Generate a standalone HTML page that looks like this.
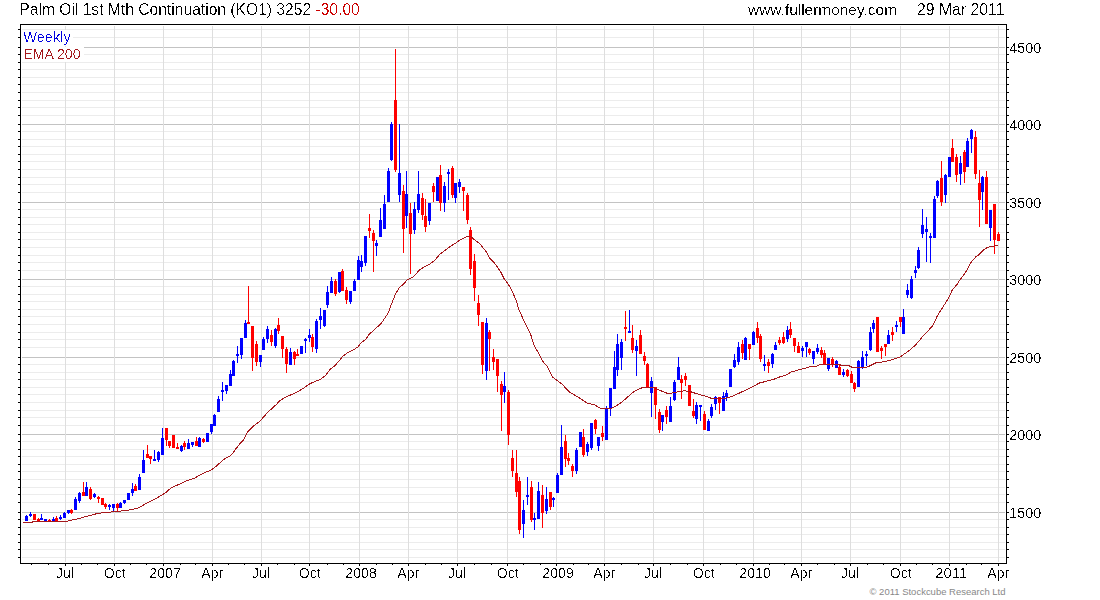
<!DOCTYPE html><html><head><meta charset="utf-8"><style>html,body{margin:0;padding:0;background:#fff;width:1100px;height:600px;overflow:hidden}svg{display:block}text{font-family:"Liberation Sans",sans-serif}</style></head><body>
<svg width="1100" height="600" viewBox="0 0 1100 600" shape-rendering="crispEdges">
<defs><filter id="al" x="0" y="0" width="1" height="1" color-interpolation-filters="sRGB"><feComponentTransfer><feFuncA type="discrete" tableValues="0 0 0 0 0 0 1 1 1 1"/></feComponentTransfer></filter></defs>
<rect x="0" y="0" width="1100" height="600" fill="#fff"/>
<rect x="22" y="29" width="983" height="1" fill="#ececec"/>
<rect x="22" y="37" width="983" height="1" fill="#ececec"/>
<rect x="22" y="54" width="983" height="1" fill="#ececec"/>
<rect x="22" y="62" width="983" height="1" fill="#ececec"/>
<rect x="22" y="69" width="983" height="1" fill="#ececec"/>
<rect x="22" y="77" width="983" height="1" fill="#ececec"/>
<rect x="22" y="84" width="983" height="1" fill="#ececec"/>
<rect x="22" y="92" width="983" height="1" fill="#ececec"/>
<rect x="22" y="100" width="983" height="1" fill="#ececec"/>
<rect x="22" y="107" width="983" height="1" fill="#ececec"/>
<rect x="22" y="115" width="983" height="1" fill="#ececec"/>
<rect x="22" y="131" width="983" height="1" fill="#ececec"/>
<rect x="22" y="139" width="983" height="1" fill="#ececec"/>
<rect x="22" y="146" width="983" height="1" fill="#ececec"/>
<rect x="22" y="154" width="983" height="1" fill="#ececec"/>
<rect x="22" y="161" width="983" height="1" fill="#ececec"/>
<rect x="22" y="169" width="983" height="1" fill="#ececec"/>
<rect x="22" y="177" width="983" height="1" fill="#ececec"/>
<rect x="22" y="184" width="983" height="1" fill="#ececec"/>
<rect x="22" y="192" width="983" height="1" fill="#ececec"/>
<rect x="22" y="209" width="983" height="1" fill="#ececec"/>
<rect x="22" y="217" width="983" height="1" fill="#ececec"/>
<rect x="22" y="224" width="983" height="1" fill="#ececec"/>
<rect x="22" y="232" width="983" height="1" fill="#ececec"/>
<rect x="22" y="239" width="983" height="1" fill="#ececec"/>
<rect x="22" y="247" width="983" height="1" fill="#ececec"/>
<rect x="22" y="255" width="983" height="1" fill="#ececec"/>
<rect x="22" y="262" width="983" height="1" fill="#ececec"/>
<rect x="22" y="270" width="983" height="1" fill="#ececec"/>
<rect x="22" y="286" width="983" height="1" fill="#ececec"/>
<rect x="22" y="294" width="983" height="1" fill="#ececec"/>
<rect x="22" y="301" width="983" height="1" fill="#ececec"/>
<rect x="22" y="309" width="983" height="1" fill="#ececec"/>
<rect x="22" y="316" width="983" height="1" fill="#ececec"/>
<rect x="22" y="324" width="983" height="1" fill="#ececec"/>
<rect x="22" y="332" width="983" height="1" fill="#ececec"/>
<rect x="22" y="339" width="983" height="1" fill="#ececec"/>
<rect x="22" y="347" width="983" height="1" fill="#ececec"/>
<rect x="22" y="364" width="983" height="1" fill="#ececec"/>
<rect x="22" y="372" width="983" height="1" fill="#ececec"/>
<rect x="22" y="379" width="983" height="1" fill="#ececec"/>
<rect x="22" y="387" width="983" height="1" fill="#ececec"/>
<rect x="22" y="394" width="983" height="1" fill="#ececec"/>
<rect x="22" y="402" width="983" height="1" fill="#ececec"/>
<rect x="22" y="410" width="983" height="1" fill="#ececec"/>
<rect x="22" y="417" width="983" height="1" fill="#ececec"/>
<rect x="22" y="425" width="983" height="1" fill="#ececec"/>
<rect x="22" y="441" width="983" height="1" fill="#ececec"/>
<rect x="22" y="449" width="983" height="1" fill="#ececec"/>
<rect x="22" y="456" width="983" height="1" fill="#ececec"/>
<rect x="22" y="464" width="983" height="1" fill="#ececec"/>
<rect x="22" y="471" width="983" height="1" fill="#ececec"/>
<rect x="22" y="479" width="983" height="1" fill="#ececec"/>
<rect x="22" y="487" width="983" height="1" fill="#ececec"/>
<rect x="22" y="494" width="983" height="1" fill="#ececec"/>
<rect x="22" y="502" width="983" height="1" fill="#ececec"/>
<rect x="22" y="519" width="983" height="1" fill="#ececec"/>
<rect x="22" y="527" width="983" height="1" fill="#ececec"/>
<rect x="22" y="534" width="983" height="1" fill="#ececec"/>
<rect x="22" y="542" width="983" height="1" fill="#ececec"/>
<rect x="22" y="549" width="983" height="1" fill="#ececec"/>
<rect x="22" y="557" width="983" height="1" fill="#ececec"/>
<rect x="22" y="47" width="983" height="1" fill="#c3c3c3"/>
<rect x="22" y="124" width="983" height="1" fill="#c3c3c3"/>
<rect x="22" y="202" width="983" height="1" fill="#c3c3c3"/>
<rect x="22" y="279" width="983" height="1" fill="#c3c3c3"/>
<rect x="22" y="357" width="983" height="1" fill="#c3c3c3"/>
<rect x="22" y="434" width="983" height="1" fill="#c3c3c3"/>
<rect x="22" y="512" width="983" height="1" fill="#c3c3c3"/>
<rect x="65" y="26" width="1" height="536" fill="#dedede"/>
<rect x="114" y="26" width="1" height="536" fill="#dedede"/>
<rect x="163" y="26" width="1" height="536" fill="#dedede"/>
<rect x="212" y="26" width="1" height="536" fill="#dedede"/>
<rect x="261" y="26" width="1" height="536" fill="#dedede"/>
<rect x="309" y="26" width="1" height="536" fill="#dedede"/>
<rect x="359" y="26" width="1" height="536" fill="#dedede"/>
<rect x="408" y="26" width="1" height="536" fill="#dedede"/>
<rect x="457" y="26" width="1" height="536" fill="#dedede"/>
<rect x="507" y="26" width="1" height="536" fill="#dedede"/>
<rect x="556" y="26" width="1" height="536" fill="#dedede"/>
<rect x="604" y="26" width="1" height="536" fill="#dedede"/>
<rect x="653" y="26" width="1" height="536" fill="#dedede"/>
<rect x="703" y="26" width="1" height="536" fill="#dedede"/>
<rect x="753" y="26" width="1" height="536" fill="#dedede"/>
<rect x="801" y="26" width="1" height="536" fill="#dedede"/>
<rect x="850" y="26" width="1" height="536" fill="#dedede"/>
<rect x="900" y="26" width="1" height="536" fill="#dedede"/>
<rect x="949" y="26" width="1" height="536" fill="#dedede"/>
<rect x="998" y="26" width="1" height="536" fill="#dedede"/>
<rect x="22" y="30" width="51" height="16" fill="#fff"/>
<rect x="22" y="47" width="62" height="15" fill="#fff"/>
<rect x="26" y="515" width="1" height="6" fill="#0000ff"/>
<rect x="25" y="516" width="3" height="5" fill="#0000ff"/>
<rect x="30" y="512" width="1" height="5" fill="#0000ff"/>
<rect x="29" y="514" width="3" height="2" fill="#0000ff"/>
<rect x="34" y="514" width="1" height="6" fill="#ff0000"/>
<rect x="33" y="514" width="3" height="6" fill="#ff0000"/>
<rect x="38" y="518" width="1" height="3" fill="#ff0000"/>
<rect x="37" y="519" width="3" height="2" fill="#ff0000"/>
<rect x="41" y="514" width="1" height="6" fill="#0000ff"/>
<rect x="40" y="518" width="3" height="2" fill="#0000ff"/>
<rect x="45" y="519" width="1" height="2" fill="#0000ff"/>
<rect x="44" y="519" width="3" height="2" fill="#0000ff"/>
<rect x="49" y="519" width="1" height="2" fill="#ff0000"/>
<rect x="48" y="520" width="3" height="1" fill="#ff0000"/>
<rect x="53" y="517" width="1" height="4" fill="#0000ff"/>
<rect x="52" y="519" width="3" height="2" fill="#0000ff"/>
<rect x="56" y="516" width="1" height="5" fill="#ff0000"/>
<rect x="55" y="518" width="3" height="3" fill="#ff0000"/>
<rect x="60" y="515" width="1" height="5" fill="#0000ff"/>
<rect x="59" y="517" width="3" height="2" fill="#0000ff"/>
<rect x="64" y="512" width="1" height="6" fill="#0000ff"/>
<rect x="63" y="513" width="3" height="5" fill="#0000ff"/>
<rect x="68" y="510" width="1" height="4" fill="#0000ff"/>
<rect x="67" y="510" width="3" height="3" fill="#0000ff"/>
<rect x="71" y="509" width="1" height="5" fill="#ff0000"/>
<rect x="70" y="510" width="3" height="3" fill="#ff0000"/>
<rect x="75" y="497" width="1" height="13" fill="#0000ff"/>
<rect x="74" y="499" width="3" height="11" fill="#0000ff"/>
<rect x="79" y="492" width="1" height="11" fill="#0000ff"/>
<rect x="78" y="493" width="3" height="8" fill="#0000ff"/>
<rect x="83" y="482" width="1" height="14" fill="#ff0000"/>
<rect x="82" y="492" width="3" height="4" fill="#ff0000"/>
<rect x="86" y="482" width="1" height="14" fill="#0000ff"/>
<rect x="85" y="487" width="3" height="9" fill="#0000ff"/>
<rect x="90" y="487" width="1" height="13" fill="#ff0000"/>
<rect x="89" y="489" width="3" height="10" fill="#ff0000"/>
<rect x="94" y="493" width="1" height="5" fill="#0000ff"/>
<rect x="93" y="494" width="3" height="3" fill="#0000ff"/>
<rect x="98" y="496" width="1" height="7" fill="#ff0000"/>
<rect x="97" y="497" width="3" height="2" fill="#ff0000"/>
<rect x="102" y="498" width="1" height="7" fill="#ff0000"/>
<rect x="101" y="498" width="3" height="7" fill="#ff0000"/>
<rect x="105" y="503" width="1" height="6" fill="#ff0000"/>
<rect x="104" y="504" width="3" height="3" fill="#ff0000"/>
<rect x="109" y="504" width="1" height="6" fill="#0000ff"/>
<rect x="108" y="505" width="3" height="2" fill="#0000ff"/>
<rect x="113" y="504" width="1" height="7" fill="#0000ff"/>
<rect x="112" y="504" width="3" height="4" fill="#0000ff"/>
<rect x="117" y="503" width="1" height="8" fill="#ff0000"/>
<rect x="116" y="504" width="3" height="4" fill="#ff0000"/>
<rect x="120" y="502" width="1" height="6" fill="#0000ff"/>
<rect x="119" y="503" width="3" height="5" fill="#0000ff"/>
<rect x="124" y="500" width="1" height="4" fill="#0000ff"/>
<rect x="123" y="500" width="3" height="3" fill="#0000ff"/>
<rect x="128" y="493" width="1" height="7" fill="#0000ff"/>
<rect x="127" y="493" width="3" height="7" fill="#0000ff"/>
<rect x="132" y="483" width="1" height="13" fill="#0000ff"/>
<rect x="131" y="489" width="3" height="4" fill="#0000ff"/>
<rect x="135" y="484" width="1" height="7" fill="#ff0000"/>
<rect x="134" y="486" width="3" height="5" fill="#ff0000"/>
<rect x="139" y="474" width="1" height="16" fill="#0000ff"/>
<rect x="138" y="477" width="3" height="13" fill="#0000ff"/>
<rect x="143" y="450" width="1" height="23" fill="#0000ff"/>
<rect x="142" y="460" width="3" height="13" fill="#0000ff"/>
<rect x="147" y="445" width="1" height="13" fill="#ff0000"/>
<rect x="146" y="454" width="3" height="4" fill="#ff0000"/>
<rect x="150" y="456" width="1" height="8" fill="#ff0000"/>
<rect x="149" y="456" width="3" height="3" fill="#ff0000"/>
<rect x="154" y="450" width="1" height="11" fill="#0000ff"/>
<rect x="153" y="459" width="3" height="2" fill="#0000ff"/>
<rect x="158" y="451" width="1" height="11" fill="#0000ff"/>
<rect x="157" y="452" width="3" height="8" fill="#0000ff"/>
<rect x="162" y="428" width="1" height="27" fill="#0000ff"/>
<rect x="161" y="438" width="3" height="17" fill="#0000ff"/>
<rect x="166" y="428" width="1" height="18" fill="#ff0000"/>
<rect x="165" y="428" width="3" height="12" fill="#ff0000"/>
<rect x="169" y="441" width="1" height="7" fill="#ff0000"/>
<rect x="168" y="441" width="3" height="5" fill="#ff0000"/>
<rect x="173" y="435" width="1" height="13" fill="#ff0000"/>
<rect x="172" y="435" width="3" height="13" fill="#ff0000"/>
<rect x="177" y="443" width="1" height="6" fill="#ff0000"/>
<rect x="176" y="447" width="3" height="2" fill="#ff0000"/>
<rect x="181" y="445" width="1" height="7" fill="#0000ff"/>
<rect x="180" y="446" width="3" height="5" fill="#0000ff"/>
<rect x="184" y="441" width="1" height="9" fill="#ff0000"/>
<rect x="183" y="443" width="3" height="4" fill="#ff0000"/>
<rect x="188" y="439" width="1" height="10" fill="#0000ff"/>
<rect x="187" y="443" width="3" height="6" fill="#0000ff"/>
<rect x="192" y="442" width="1" height="5" fill="#0000ff"/>
<rect x="191" y="442" width="3" height="3" fill="#0000ff"/>
<rect x="196" y="437" width="1" height="9" fill="#ff0000"/>
<rect x="195" y="441" width="3" height="5" fill="#ff0000"/>
<rect x="199" y="437" width="1" height="10" fill="#0000ff"/>
<rect x="198" y="438" width="3" height="9" fill="#0000ff"/>
<rect x="203" y="438" width="1" height="5" fill="#ff0000"/>
<rect x="202" y="439" width="3" height="3" fill="#ff0000"/>
<rect x="207" y="433" width="1" height="9" fill="#0000ff"/>
<rect x="206" y="433" width="3" height="9" fill="#0000ff"/>
<rect x="211" y="424" width="1" height="10" fill="#0000ff"/>
<rect x="210" y="424" width="3" height="8" fill="#0000ff"/>
<rect x="214" y="414" width="1" height="12" fill="#0000ff"/>
<rect x="213" y="415" width="3" height="11" fill="#0000ff"/>
<rect x="218" y="396" width="1" height="16" fill="#0000ff"/>
<rect x="217" y="399" width="3" height="13" fill="#0000ff"/>
<rect x="222" y="382" width="1" height="19" fill="#0000ff"/>
<rect x="221" y="390" width="3" height="2" fill="#0000ff"/>
<rect x="226" y="385" width="1" height="9" fill="#0000ff"/>
<rect x="225" y="385" width="3" height="6" fill="#0000ff"/>
<rect x="230" y="370" width="1" height="16" fill="#0000ff"/>
<rect x="229" y="374" width="3" height="12" fill="#0000ff"/>
<rect x="233" y="360" width="1" height="16" fill="#0000ff"/>
<rect x="232" y="361" width="3" height="15" fill="#0000ff"/>
<rect x="237" y="346" width="1" height="17" fill="#0000ff"/>
<rect x="236" y="354" width="3" height="2" fill="#0000ff"/>
<rect x="241" y="338" width="1" height="21" fill="#0000ff"/>
<rect x="240" y="338" width="3" height="17" fill="#0000ff"/>
<rect x="245" y="320" width="1" height="18" fill="#0000ff"/>
<rect x="244" y="323" width="3" height="15" fill="#0000ff"/>
<rect x="248" y="286" width="1" height="38" fill="#ff0000"/>
<rect x="247" y="322" width="3" height="2" fill="#ff0000"/>
<rect x="252" y="326" width="1" height="45" fill="#ff0000"/>
<rect x="251" y="326" width="3" height="32" fill="#ff0000"/>
<rect x="256" y="341" width="1" height="25" fill="#ff0000"/>
<rect x="255" y="344" width="3" height="18" fill="#ff0000"/>
<rect x="260" y="355" width="1" height="12" fill="#0000ff"/>
<rect x="259" y="355" width="3" height="7" fill="#0000ff"/>
<rect x="263" y="337" width="1" height="13" fill="#0000ff"/>
<rect x="262" y="339" width="3" height="11" fill="#0000ff"/>
<rect x="267" y="326" width="1" height="17" fill="#0000ff"/>
<rect x="266" y="329" width="3" height="10" fill="#0000ff"/>
<rect x="271" y="330" width="1" height="16" fill="#ff0000"/>
<rect x="270" y="335" width="3" height="7" fill="#ff0000"/>
<rect x="275" y="328" width="1" height="20" fill="#0000ff"/>
<rect x="274" y="329" width="3" height="17" fill="#0000ff"/>
<rect x="278" y="318" width="1" height="16" fill="#ff0000"/>
<rect x="277" y="325" width="3" height="6" fill="#ff0000"/>
<rect x="282" y="336" width="1" height="22" fill="#ff0000"/>
<rect x="281" y="336" width="3" height="13" fill="#ff0000"/>
<rect x="286" y="347" width="1" height="26" fill="#ff0000"/>
<rect x="285" y="349" width="3" height="15" fill="#ff0000"/>
<rect x="290" y="348" width="1" height="17" fill="#0000ff"/>
<rect x="289" y="352" width="3" height="13" fill="#0000ff"/>
<rect x="294" y="351" width="1" height="14" fill="#ff0000"/>
<rect x="293" y="352" width="3" height="7" fill="#ff0000"/>
<rect x="297" y="349" width="1" height="7" fill="#ff0000"/>
<rect x="296" y="354" width="3" height="2" fill="#ff0000"/>
<rect x="301" y="346" width="1" height="8" fill="#0000ff"/>
<rect x="300" y="346" width="3" height="8" fill="#0000ff"/>
<rect x="305" y="338" width="1" height="15" fill="#0000ff"/>
<rect x="304" y="339" width="3" height="2" fill="#0000ff"/>
<rect x="309" y="329" width="1" height="13" fill="#0000ff"/>
<rect x="308" y="335" width="3" height="3" fill="#0000ff"/>
<rect x="312" y="334" width="1" height="18" fill="#ff0000"/>
<rect x="311" y="337" width="3" height="10" fill="#ff0000"/>
<rect x="316" y="319" width="1" height="34" fill="#0000ff"/>
<rect x="315" y="321" width="3" height="28" fill="#0000ff"/>
<rect x="320" y="308" width="1" height="21" fill="#0000ff"/>
<rect x="319" y="316" width="3" height="4" fill="#0000ff"/>
<rect x="324" y="310" width="1" height="17" fill="#0000ff"/>
<rect x="323" y="310" width="3" height="16" fill="#0000ff"/>
<rect x="327" y="286" width="1" height="22" fill="#0000ff"/>
<rect x="326" y="292" width="3" height="13" fill="#0000ff"/>
<rect x="331" y="277" width="1" height="16" fill="#0000ff"/>
<rect x="330" y="281" width="3" height="12" fill="#0000ff"/>
<rect x="335" y="279" width="1" height="17" fill="#ff0000"/>
<rect x="334" y="281" width="3" height="13" fill="#ff0000"/>
<rect x="339" y="272" width="1" height="21" fill="#0000ff"/>
<rect x="338" y="272" width="3" height="20" fill="#0000ff"/>
<rect x="342" y="269" width="1" height="22" fill="#ff0000"/>
<rect x="341" y="271" width="3" height="20" fill="#ff0000"/>
<rect x="346" y="287" width="1" height="17" fill="#ff0000"/>
<rect x="345" y="290" width="3" height="10" fill="#ff0000"/>
<rect x="350" y="291" width="1" height="13" fill="#0000ff"/>
<rect x="349" y="291" width="3" height="11" fill="#0000ff"/>
<rect x="354" y="279" width="1" height="12" fill="#0000ff"/>
<rect x="353" y="281" width="3" height="10" fill="#0000ff"/>
<rect x="358" y="256" width="1" height="24" fill="#0000ff"/>
<rect x="357" y="260" width="3" height="20" fill="#0000ff"/>
<rect x="361" y="255" width="1" height="17" fill="#0000ff"/>
<rect x="360" y="261" width="3" height="6" fill="#0000ff"/>
<rect x="365" y="236" width="1" height="30" fill="#0000ff"/>
<rect x="364" y="236" width="3" height="27" fill="#0000ff"/>
<rect x="369" y="214" width="1" height="24" fill="#ff0000"/>
<rect x="368" y="228" width="3" height="3" fill="#ff0000"/>
<rect x="373" y="230" width="1" height="42" fill="#ff0000"/>
<rect x="372" y="233" width="3" height="8" fill="#ff0000"/>
<rect x="376" y="240" width="1" height="16" fill="#0000ff"/>
<rect x="375" y="243" width="3" height="3" fill="#0000ff"/>
<rect x="380" y="208" width="1" height="29" fill="#0000ff"/>
<rect x="379" y="220" width="3" height="17" fill="#0000ff"/>
<rect x="384" y="195" width="1" height="34" fill="#0000ff"/>
<rect x="383" y="204" width="3" height="25" fill="#0000ff"/>
<rect x="388" y="168" width="1" height="34" fill="#0000ff"/>
<rect x="387" y="171" width="3" height="31" fill="#0000ff"/>
<rect x="391" y="122" width="1" height="39" fill="#0000ff"/>
<rect x="390" y="124" width="3" height="36" fill="#0000ff"/>
<rect x="395" y="49" width="1" height="123" fill="#ff0000"/>
<rect x="394" y="100" width="3" height="70" fill="#ff0000"/>
<rect x="399" y="124" width="1" height="78" fill="#0000ff"/>
<rect x="398" y="173" width="3" height="22" fill="#0000ff"/>
<rect x="403" y="185" width="1" height="68" fill="#ff0000"/>
<rect x="402" y="191" width="3" height="38" fill="#ff0000"/>
<rect x="406" y="171" width="1" height="57" fill="#0000ff"/>
<rect x="405" y="194" width="3" height="22" fill="#0000ff"/>
<rect x="410" y="203" width="1" height="71" fill="#ff0000"/>
<rect x="409" y="213" width="3" height="21" fill="#ff0000"/>
<rect x="414" y="202" width="1" height="32" fill="#0000ff"/>
<rect x="413" y="209" width="3" height="21" fill="#0000ff"/>
<rect x="418" y="171" width="1" height="42" fill="#0000ff"/>
<rect x="417" y="194" width="3" height="16" fill="#0000ff"/>
<rect x="422" y="193" width="1" height="27" fill="#ff0000"/>
<rect x="421" y="198" width="3" height="17" fill="#ff0000"/>
<rect x="425" y="199" width="1" height="33" fill="#ff0000"/>
<rect x="424" y="216" width="3" height="11" fill="#ff0000"/>
<rect x="429" y="203" width="1" height="22" fill="#0000ff"/>
<rect x="428" y="203" width="3" height="18" fill="#0000ff"/>
<rect x="433" y="183" width="1" height="19" fill="#ff0000"/>
<rect x="432" y="186" width="3" height="6" fill="#ff0000"/>
<rect x="437" y="177" width="1" height="24" fill="#0000ff"/>
<rect x="436" y="177" width="3" height="24" fill="#0000ff"/>
<rect x="440" y="165" width="1" height="46" fill="#ff0000"/>
<rect x="439" y="175" width="3" height="28" fill="#ff0000"/>
<rect x="444" y="182" width="1" height="30" fill="#0000ff"/>
<rect x="443" y="186" width="3" height="17" fill="#0000ff"/>
<rect x="448" y="169" width="1" height="31" fill="#0000ff"/>
<rect x="447" y="172" width="3" height="2" fill="#0000ff"/>
<rect x="452" y="166" width="1" height="32" fill="#ff0000"/>
<rect x="451" y="168" width="3" height="27" fill="#ff0000"/>
<rect x="455" y="183" width="1" height="20" fill="#0000ff"/>
<rect x="454" y="183" width="3" height="15" fill="#0000ff"/>
<rect x="459" y="179" width="1" height="14" fill="#0000ff"/>
<rect x="458" y="182" width="3" height="5" fill="#0000ff"/>
<rect x="463" y="187" width="1" height="24" fill="#ff0000"/>
<rect x="462" y="187" width="3" height="4" fill="#ff0000"/>
<rect x="467" y="193" width="1" height="31" fill="#ff0000"/>
<rect x="466" y="195" width="3" height="25" fill="#ff0000"/>
<rect x="470" y="227" width="1" height="48" fill="#ff0000"/>
<rect x="469" y="230" width="3" height="39" fill="#ff0000"/>
<rect x="474" y="254" width="1" height="47" fill="#ff0000"/>
<rect x="473" y="261" width="3" height="27" fill="#ff0000"/>
<rect x="478" y="295" width="1" height="31" fill="#ff0000"/>
<rect x="477" y="303" width="3" height="12" fill="#ff0000"/>
<rect x="482" y="322" width="1" height="52" fill="#ff0000"/>
<rect x="481" y="322" width="3" height="43" fill="#ff0000"/>
<rect x="486" y="318" width="1" height="62" fill="#0000ff"/>
<rect x="485" y="323" width="3" height="48" fill="#0000ff"/>
<rect x="489" y="330" width="1" height="41" fill="#ff0000"/>
<rect x="488" y="332" width="3" height="7" fill="#ff0000"/>
<rect x="493" y="349" width="1" height="21" fill="#ff0000"/>
<rect x="492" y="357" width="3" height="5" fill="#ff0000"/>
<rect x="497" y="359" width="1" height="33" fill="#ff0000"/>
<rect x="496" y="359" width="3" height="17" fill="#ff0000"/>
<rect x="501" y="381" width="1" height="50" fill="#ff0000"/>
<rect x="500" y="384" width="3" height="11" fill="#ff0000"/>
<rect x="504" y="372" width="1" height="31" fill="#0000ff"/>
<rect x="503" y="386" width="3" height="6" fill="#0000ff"/>
<rect x="508" y="390" width="1" height="55" fill="#ff0000"/>
<rect x="507" y="392" width="3" height="43" fill="#ff0000"/>
<rect x="512" y="450" width="1" height="27" fill="#ff0000"/>
<rect x="511" y="458" width="3" height="13" fill="#ff0000"/>
<rect x="516" y="450" width="1" height="47" fill="#ff0000"/>
<rect x="515" y="473" width="3" height="19" fill="#ff0000"/>
<rect x="519" y="477" width="1" height="57" fill="#ff0000"/>
<rect x="518" y="481" width="3" height="49" fill="#ff0000"/>
<rect x="523" y="500" width="1" height="38" fill="#0000ff"/>
<rect x="522" y="510" width="3" height="14" fill="#0000ff"/>
<rect x="527" y="477" width="1" height="28" fill="#0000ff"/>
<rect x="526" y="495" width="3" height="2" fill="#0000ff"/>
<rect x="531" y="481" width="1" height="41" fill="#ff0000"/>
<rect x="530" y="487" width="3" height="33" fill="#ff0000"/>
<rect x="534" y="513" width="1" height="17" fill="#0000ff"/>
<rect x="533" y="518" width="3" height="2" fill="#0000ff"/>
<rect x="538" y="482" width="1" height="37" fill="#0000ff"/>
<rect x="537" y="491" width="3" height="28" fill="#0000ff"/>
<rect x="542" y="485" width="1" height="43" fill="#ff0000"/>
<rect x="541" y="495" width="3" height="18" fill="#ff0000"/>
<rect x="546" y="487" width="1" height="27" fill="#0000ff"/>
<rect x="545" y="499" width="3" height="12" fill="#0000ff"/>
<rect x="550" y="492" width="1" height="18" fill="#ff0000"/>
<rect x="549" y="492" width="3" height="15" fill="#ff0000"/>
<rect x="553" y="497" width="1" height="10" fill="#0000ff"/>
<rect x="552" y="498" width="3" height="2" fill="#0000ff"/>
<rect x="557" y="473" width="1" height="20" fill="#0000ff"/>
<rect x="556" y="475" width="3" height="18" fill="#0000ff"/>
<rect x="561" y="425" width="1" height="50" fill="#0000ff"/>
<rect x="560" y="447" width="3" height="28" fill="#0000ff"/>
<rect x="565" y="435" width="1" height="32" fill="#ff0000"/>
<rect x="564" y="441" width="3" height="18" fill="#ff0000"/>
<rect x="568" y="453" width="1" height="12" fill="#ff0000"/>
<rect x="567" y="458" width="3" height="3" fill="#ff0000"/>
<rect x="572" y="464" width="1" height="13" fill="#ff0000"/>
<rect x="571" y="466" width="3" height="5" fill="#ff0000"/>
<rect x="576" y="448" width="1" height="26" fill="#0000ff"/>
<rect x="575" y="450" width="3" height="21" fill="#0000ff"/>
<rect x="580" y="432" width="1" height="15" fill="#0000ff"/>
<rect x="579" y="432" width="3" height="15" fill="#0000ff"/>
<rect x="583" y="429" width="1" height="28" fill="#ff0000"/>
<rect x="582" y="437" width="3" height="18" fill="#ff0000"/>
<rect x="587" y="442" width="1" height="14" fill="#0000ff"/>
<rect x="586" y="444" width="3" height="8" fill="#0000ff"/>
<rect x="591" y="423" width="1" height="27" fill="#0000ff"/>
<rect x="590" y="423" width="3" height="25" fill="#0000ff"/>
<rect x="595" y="419" width="1" height="15" fill="#ff0000"/>
<rect x="594" y="420" width="3" height="9" fill="#ff0000"/>
<rect x="598" y="437" width="1" height="14" fill="#0000ff"/>
<rect x="597" y="437" width="3" height="9" fill="#0000ff"/>
<rect x="602" y="426" width="1" height="15" fill="#ff0000"/>
<rect x="601" y="433" width="3" height="4" fill="#ff0000"/>
<rect x="606" y="406" width="1" height="34" fill="#0000ff"/>
<rect x="605" y="409" width="3" height="31" fill="#0000ff"/>
<rect x="610" y="388" width="1" height="28" fill="#0000ff"/>
<rect x="609" y="388" width="3" height="20" fill="#0000ff"/>
<rect x="614" y="351" width="1" height="38" fill="#0000ff"/>
<rect x="613" y="367" width="3" height="22" fill="#0000ff"/>
<rect x="617" y="334" width="1" height="42" fill="#0000ff"/>
<rect x="616" y="344" width="3" height="26" fill="#0000ff"/>
<rect x="621" y="339" width="1" height="31" fill="#0000ff"/>
<rect x="620" y="342" width="3" height="16" fill="#0000ff"/>
<rect x="625" y="311" width="1" height="30" fill="#ff0000"/>
<rect x="624" y="327" width="3" height="2" fill="#ff0000"/>
<rect x="629" y="310" width="1" height="23" fill="#0000ff"/>
<rect x="628" y="331" width="3" height="2" fill="#0000ff"/>
<rect x="632" y="325" width="1" height="28" fill="#ff0000"/>
<rect x="631" y="338" width="3" height="12" fill="#ff0000"/>
<rect x="636" y="340" width="1" height="36" fill="#0000ff"/>
<rect x="635" y="346" width="3" height="5" fill="#0000ff"/>
<rect x="640" y="330" width="1" height="24" fill="#ff0000"/>
<rect x="639" y="335" width="3" height="19" fill="#ff0000"/>
<rect x="644" y="352" width="1" height="13" fill="#ff0000"/>
<rect x="643" y="356" width="3" height="5" fill="#ff0000"/>
<rect x="647" y="363" width="1" height="24" fill="#ff0000"/>
<rect x="646" y="364" width="3" height="23" fill="#ff0000"/>
<rect x="651" y="377" width="1" height="40" fill="#0000ff"/>
<rect x="650" y="381" width="3" height="12" fill="#0000ff"/>
<rect x="655" y="387" width="1" height="32" fill="#ff0000"/>
<rect x="654" y="387" width="3" height="18" fill="#ff0000"/>
<rect x="659" y="409" width="1" height="24" fill="#ff0000"/>
<rect x="658" y="412" width="3" height="18" fill="#ff0000"/>
<rect x="662" y="415" width="1" height="16" fill="#0000ff"/>
<rect x="661" y="415" width="3" height="7" fill="#0000ff"/>
<rect x="666" y="406" width="1" height="18" fill="#ff0000"/>
<rect x="665" y="410" width="3" height="7" fill="#ff0000"/>
<rect x="670" y="397" width="1" height="25" fill="#0000ff"/>
<rect x="669" y="406" width="3" height="16" fill="#0000ff"/>
<rect x="674" y="380" width="1" height="21" fill="#0000ff"/>
<rect x="673" y="382" width="3" height="18" fill="#0000ff"/>
<rect x="678" y="357" width="1" height="23" fill="#0000ff"/>
<rect x="677" y="367" width="3" height="13" fill="#0000ff"/>
<rect x="681" y="375" width="1" height="24" fill="#ff0000"/>
<rect x="680" y="379" width="3" height="4" fill="#ff0000"/>
<rect x="685" y="373" width="1" height="13" fill="#ff0000"/>
<rect x="684" y="376" width="3" height="4" fill="#ff0000"/>
<rect x="689" y="385" width="1" height="21" fill="#ff0000"/>
<rect x="688" y="385" width="3" height="21" fill="#ff0000"/>
<rect x="693" y="399" width="1" height="19" fill="#ff0000"/>
<rect x="692" y="411" width="3" height="5" fill="#ff0000"/>
<rect x="696" y="402" width="1" height="22" fill="#0000ff"/>
<rect x="695" y="405" width="3" height="14" fill="#0000ff"/>
<rect x="700" y="405" width="1" height="16" fill="#0000ff"/>
<rect x="699" y="405" width="3" height="2" fill="#0000ff"/>
<rect x="704" y="411" width="1" height="19" fill="#ff0000"/>
<rect x="703" y="414" width="3" height="16" fill="#ff0000"/>
<rect x="708" y="419" width="1" height="12" fill="#0000ff"/>
<rect x="707" y="421" width="3" height="10" fill="#0000ff"/>
<rect x="711" y="404" width="1" height="14" fill="#0000ff"/>
<rect x="710" y="407" width="3" height="9" fill="#0000ff"/>
<rect x="715" y="396" width="1" height="14" fill="#0000ff"/>
<rect x="714" y="397" width="3" height="7" fill="#0000ff"/>
<rect x="719" y="397" width="1" height="17" fill="#ff0000"/>
<rect x="718" y="397" width="3" height="6" fill="#ff0000"/>
<rect x="723" y="392" width="1" height="19" fill="#0000ff"/>
<rect x="722" y="396" width="3" height="15" fill="#0000ff"/>
<rect x="726" y="390" width="1" height="11" fill="#0000ff"/>
<rect x="725" y="393" width="3" height="4" fill="#0000ff"/>
<rect x="730" y="369" width="1" height="18" fill="#0000ff"/>
<rect x="729" y="369" width="3" height="18" fill="#0000ff"/>
<rect x="734" y="354" width="1" height="14" fill="#0000ff"/>
<rect x="733" y="360" width="3" height="7" fill="#0000ff"/>
<rect x="738" y="342" width="1" height="23" fill="#0000ff"/>
<rect x="737" y="347" width="3" height="15" fill="#0000ff"/>
<rect x="742" y="340" width="1" height="19" fill="#ff0000"/>
<rect x="741" y="344" width="3" height="9" fill="#ff0000"/>
<rect x="745" y="337" width="1" height="23" fill="#0000ff"/>
<rect x="744" y="338" width="3" height="22" fill="#0000ff"/>
<rect x="749" y="344" width="1" height="16" fill="#ff0000"/>
<rect x="748" y="344" width="3" height="5" fill="#ff0000"/>
<rect x="753" y="331" width="1" height="14" fill="#0000ff"/>
<rect x="752" y="332" width="3" height="13" fill="#0000ff"/>
<rect x="757" y="322" width="1" height="21" fill="#ff0000"/>
<rect x="756" y="328" width="3" height="10" fill="#ff0000"/>
<rect x="760" y="334" width="1" height="28" fill="#ff0000"/>
<rect x="759" y="336" width="3" height="23" fill="#ff0000"/>
<rect x="764" y="355" width="1" height="16" fill="#0000ff"/>
<rect x="763" y="364" width="3" height="2" fill="#0000ff"/>
<rect x="768" y="359" width="1" height="14" fill="#ff0000"/>
<rect x="767" y="362" width="3" height="4" fill="#ff0000"/>
<rect x="772" y="353" width="1" height="15" fill="#0000ff"/>
<rect x="771" y="354" width="3" height="10" fill="#0000ff"/>
<rect x="775" y="342" width="1" height="8" fill="#0000ff"/>
<rect x="774" y="345" width="3" height="5" fill="#0000ff"/>
<rect x="779" y="337" width="1" height="8" fill="#ff0000"/>
<rect x="778" y="340" width="3" height="3" fill="#ff0000"/>
<rect x="783" y="332" width="1" height="12" fill="#ff0000"/>
<rect x="782" y="337" width="3" height="6" fill="#ff0000"/>
<rect x="787" y="326" width="1" height="16" fill="#0000ff"/>
<rect x="786" y="330" width="3" height="9" fill="#0000ff"/>
<rect x="790" y="322" width="1" height="16" fill="#ff0000"/>
<rect x="789" y="329" width="3" height="6" fill="#ff0000"/>
<rect x="794" y="338" width="1" height="14" fill="#ff0000"/>
<rect x="793" y="338" width="3" height="8" fill="#ff0000"/>
<rect x="798" y="342" width="1" height="11" fill="#ff0000"/>
<rect x="797" y="346" width="3" height="7" fill="#ff0000"/>
<rect x="802" y="346" width="1" height="11" fill="#0000ff"/>
<rect x="801" y="348" width="3" height="3" fill="#0000ff"/>
<rect x="806" y="342" width="1" height="15" fill="#0000ff"/>
<rect x="805" y="342" width="3" height="5" fill="#0000ff"/>
<rect x="809" y="348" width="1" height="7" fill="#ff0000"/>
<rect x="808" y="349" width="3" height="4" fill="#ff0000"/>
<rect x="813" y="351" width="1" height="13" fill="#0000ff"/>
<rect x="812" y="351" width="3" height="8" fill="#0000ff"/>
<rect x="817" y="344" width="1" height="10" fill="#0000ff"/>
<rect x="816" y="348" width="3" height="4" fill="#0000ff"/>
<rect x="821" y="347" width="1" height="11" fill="#ff0000"/>
<rect x="820" y="350" width="3" height="5" fill="#ff0000"/>
<rect x="824" y="350" width="1" height="14" fill="#ff0000"/>
<rect x="823" y="353" width="3" height="11" fill="#ff0000"/>
<rect x="828" y="358" width="1" height="13" fill="#0000ff"/>
<rect x="827" y="358" width="3" height="11" fill="#0000ff"/>
<rect x="832" y="357" width="1" height="10" fill="#ff0000"/>
<rect x="831" y="359" width="3" height="5" fill="#ff0000"/>
<rect x="836" y="360" width="1" height="8" fill="#0000ff"/>
<rect x="835" y="361" width="3" height="7" fill="#0000ff"/>
<rect x="839" y="365" width="1" height="10" fill="#ff0000"/>
<rect x="838" y="367" width="3" height="8" fill="#ff0000"/>
<rect x="843" y="369" width="1" height="8" fill="#0000ff"/>
<rect x="842" y="372" width="3" height="3" fill="#0000ff"/>
<rect x="847" y="369" width="1" height="8" fill="#ff0000"/>
<rect x="846" y="370" width="3" height="6" fill="#ff0000"/>
<rect x="851" y="371" width="1" height="12" fill="#ff0000"/>
<rect x="850" y="374" width="3" height="9" fill="#ff0000"/>
<rect x="854" y="382" width="1" height="10" fill="#ff0000"/>
<rect x="853" y="383" width="3" height="6" fill="#ff0000"/>
<rect x="858" y="360" width="1" height="27" fill="#0000ff"/>
<rect x="857" y="361" width="3" height="26" fill="#0000ff"/>
<rect x="862" y="351" width="1" height="18" fill="#0000ff"/>
<rect x="861" y="357" width="3" height="11" fill="#0000ff"/>
<rect x="866" y="351" width="1" height="15" fill="#0000ff"/>
<rect x="865" y="354" width="3" height="2" fill="#0000ff"/>
<rect x="870" y="327" width="1" height="24" fill="#0000ff"/>
<rect x="869" y="332" width="3" height="18" fill="#0000ff"/>
<rect x="873" y="320" width="1" height="13" fill="#0000ff"/>
<rect x="872" y="323" width="3" height="6" fill="#0000ff"/>
<rect x="877" y="317" width="1" height="35" fill="#ff0000"/>
<rect x="876" y="317" width="3" height="35" fill="#ff0000"/>
<rect x="881" y="346" width="1" height="13" fill="#ff0000"/>
<rect x="880" y="348" width="3" height="3" fill="#ff0000"/>
<rect x="885" y="344" width="1" height="12" fill="#ff0000"/>
<rect x="884" y="344" width="3" height="3" fill="#ff0000"/>
<rect x="888" y="330" width="1" height="14" fill="#0000ff"/>
<rect x="887" y="335" width="3" height="9" fill="#0000ff"/>
<rect x="892" y="327" width="1" height="14" fill="#ff0000"/>
<rect x="891" y="332" width="3" height="3" fill="#ff0000"/>
<rect x="896" y="321" width="1" height="11" fill="#0000ff"/>
<rect x="895" y="325" width="3" height="2" fill="#0000ff"/>
<rect x="900" y="317" width="1" height="10" fill="#ff0000"/>
<rect x="899" y="317" width="3" height="5" fill="#ff0000"/>
<rect x="903" y="309" width="1" height="25" fill="#0000ff"/>
<rect x="902" y="317" width="3" height="17" fill="#0000ff"/>
<rect x="907" y="284" width="1" height="14" fill="#0000ff"/>
<rect x="906" y="290" width="3" height="5" fill="#0000ff"/>
<rect x="911" y="276" width="1" height="23" fill="#0000ff"/>
<rect x="910" y="279" width="3" height="19" fill="#0000ff"/>
<rect x="915" y="266" width="1" height="12" fill="#0000ff"/>
<rect x="914" y="270" width="3" height="3" fill="#0000ff"/>
<rect x="918" y="247" width="1" height="22" fill="#0000ff"/>
<rect x="917" y="250" width="3" height="18" fill="#0000ff"/>
<rect x="922" y="209" width="1" height="29" fill="#0000ff"/>
<rect x="921" y="225" width="3" height="9" fill="#0000ff"/>
<rect x="926" y="217" width="1" height="45" fill="#0000ff"/>
<rect x="925" y="229" width="3" height="3" fill="#0000ff"/>
<rect x="930" y="233" width="1" height="30" fill="#0000ff"/>
<rect x="929" y="236" width="3" height="2" fill="#0000ff"/>
<rect x="934" y="196" width="1" height="42" fill="#0000ff"/>
<rect x="933" y="199" width="3" height="39" fill="#0000ff"/>
<rect x="937" y="180" width="1" height="18" fill="#0000ff"/>
<rect x="936" y="181" width="3" height="15" fill="#0000ff"/>
<rect x="941" y="161" width="1" height="45" fill="#ff0000"/>
<rect x="940" y="178" width="3" height="24" fill="#ff0000"/>
<rect x="945" y="174" width="1" height="29" fill="#0000ff"/>
<rect x="944" y="175" width="3" height="20" fill="#0000ff"/>
<rect x="949" y="157" width="1" height="20" fill="#0000ff"/>
<rect x="948" y="157" width="3" height="20" fill="#0000ff"/>
<rect x="952" y="139" width="1" height="23" fill="#ff0000"/>
<rect x="951" y="148" width="3" height="14" fill="#ff0000"/>
<rect x="956" y="154" width="1" height="28" fill="#ff0000"/>
<rect x="955" y="157" width="3" height="18" fill="#ff0000"/>
<rect x="960" y="156" width="1" height="29" fill="#0000ff"/>
<rect x="959" y="163" width="3" height="11" fill="#0000ff"/>
<rect x="964" y="150" width="1" height="33" fill="#ff0000"/>
<rect x="963" y="152" width="3" height="20" fill="#ff0000"/>
<rect x="967" y="138" width="1" height="29" fill="#0000ff"/>
<rect x="966" y="141" width="3" height="26" fill="#0000ff"/>
<rect x="971" y="129" width="1" height="24" fill="#0000ff"/>
<rect x="970" y="130" width="3" height="9" fill="#0000ff"/>
<rect x="975" y="131" width="1" height="48" fill="#ff0000"/>
<rect x="974" y="137" width="3" height="37" fill="#ff0000"/>
<rect x="979" y="170" width="1" height="57" fill="#ff0000"/>
<rect x="978" y="183" width="3" height="17" fill="#ff0000"/>
<rect x="982" y="176" width="1" height="34" fill="#0000ff"/>
<rect x="981" y="177" width="3" height="15" fill="#0000ff"/>
<rect x="986" y="171" width="1" height="53" fill="#ff0000"/>
<rect x="985" y="177" width="3" height="47" fill="#ff0000"/>
<rect x="990" y="210" width="1" height="31" fill="#0000ff"/>
<rect x="989" y="210" width="3" height="18" fill="#0000ff"/>
<rect x="994" y="204" width="1" height="50" fill="#ff0000"/>
<rect x="993" y="204" width="3" height="36" fill="#ff0000"/>
<rect x="998" y="232" width="1" height="9" fill="#ff0000"/>
<rect x="997" y="234" width="3" height="7" fill="#ff0000"/>
<polyline points="23.0,522.5 32.0,522.5 33.0,521.5 63.0,521.5 66.0,521.5 69.5,520.5 75.0,519.5 79.0,518.5 82.5,517.5 86.0,516.5 90.0,515.5 94.0,514.5 97.0,513.5 106.0,512.5 117.0,511.5 126.0,510.5 132.0,509.5 136.7,508.4 141.7,506.3 145.0,503.8 149.2,501.8 153.3,499.7 157.5,497.6 161.7,495.1 165.8,492.6 170.0,488.8 174.2,486.3 178.3,484.7 180.0,484.0 185.0,481.5 190.0,479.5 195.0,478.0 200.0,475.0 205.0,472.5 210.0,470.5 212.5,469.0 217.0,465.5 222.0,461.0 225.0,458.5 230.0,456.0 232.5,453.5 235.0,450.0 240.0,443.5 243.3,440.1 247.5,431.8 254.2,425.5 259.2,421.8 261.7,419.2 267.5,412.6 273.3,407.2 276.7,404.2 279.2,401.3 283.3,398.4 289.2,395.5 295.0,393.2 303.0,388.5 309.7,383.8 315.0,381.5 320.0,379.5 325.0,376.0 330.0,369.5 335.0,365.5 340.0,360.0 343.0,356.0 348.0,352.5 353.0,350.0 358.0,347.0 361.0,343.0 366.0,339.0 369.0,334.5 375.0,329.0 380.5,324.1 385.2,317.7 388.7,311.8 391.6,303.7 395.1,294.9 399.2,287.9 403.8,283.8 407.3,279.8 413.2,276.8 415.0,275.0 420.0,269.5 425.0,266.5 430.0,264.0 435.0,260.0 440.0,254.0 445.0,250.5 450.0,246.5 455.0,243.5 460.0,240.0 465.0,237.5 468.0,236.0 471.0,237.0 475.0,240.0 480.0,243.8 486.7,252.5 490.0,258.7 494.7,263.3 500.5,271.5 504.0,278.5 508.1,283.8 512.2,291.3 516.3,300.7 518.6,308.8 524.7,322.5 530.7,334.5 534.0,345.2 539.3,354.5 542.7,361.2 547.3,366.5 552.7,377.2 558.0,381.2 563.3,385.2 565.0,387.4 570.1,392.5 575.9,395.8 581.7,399.4 587.5,403.4 594.1,404.5 601.4,408.9 610.8,408.9 615.9,406.0 621.7,402.3 627.5,397.2 632.6,392.5 637.7,389.6 642.1,387.8 646.7,387.0 653.4,387.4 659.1,390.0 668.6,393.9 676.3,392.1 684.8,390.8 691.5,392.0 697.3,393.9 706.8,396.5 710.6,398.0 725.9,398.0 731.6,396.7 737.3,393.9 740.0,392.8 746.7,389.5 753.3,386.5 758.7,383.2 766.7,381.2 773.3,379.5 780.0,376.8 786.7,374.8 790.7,372.2 796.7,370.5 801.3,369.2 810.0,366.8 814.9,366.7 819.8,364.8 840.3,364.8 841.9,365.9 849.3,365.9 853.4,367.9 864.0,367.9 868.9,366.3 875.5,363.0 883.6,361.8 891.8,359.7 895.0,358.5 900.0,357.0 905.0,353.5 910.0,350.0 915.0,345.5 920.0,340.0 922.0,337.0 927.0,332.0 932.0,326.5 934.0,323.0 937.0,316.5 939.0,313.0 942.0,308.5 944.5,304.5 948.7,297.8 952.2,290.1 957.5,283.8 959.8,280.0 962.8,276.2 965.8,271.8 968.0,268.0 970.6,262.8 973.2,259.8 976.2,256.4 978.5,255.2 981.5,252.2 984.5,249.2 985.3,248.5 990.0,246.5 998.0,245.6" fill="none" stroke="#a5181c" stroke-width="1" shape-rendering="crispEdges"/>
<rect x="20" y="24" width="987" height="1" fill="#000"/>
<rect x="20" y="563" width="987" height="1" fill="#000"/>
<rect x="20" y="24" width="1" height="540" fill="#000"/>
<rect x="1006" y="24" width="1" height="540" fill="#000"/>
<rect x="18" y="29" width="2" height="1" fill="#000"/>
<rect x="1007" y="29" width="2" height="1" fill="#000"/>
<rect x="18" y="37" width="2" height="1" fill="#000"/>
<rect x="1007" y="37" width="2" height="1" fill="#000"/>
<rect x="18" y="47" width="2" height="1" fill="#000"/>
<rect x="1007" y="47" width="2" height="1" fill="#000"/>
<rect x="18" y="54" width="2" height="1" fill="#000"/>
<rect x="1007" y="54" width="2" height="1" fill="#000"/>
<rect x="18" y="62" width="2" height="1" fill="#000"/>
<rect x="1007" y="62" width="2" height="1" fill="#000"/>
<rect x="18" y="69" width="2" height="1" fill="#000"/>
<rect x="1007" y="69" width="2" height="1" fill="#000"/>
<rect x="18" y="77" width="2" height="1" fill="#000"/>
<rect x="1007" y="77" width="2" height="1" fill="#000"/>
<rect x="18" y="84" width="2" height="1" fill="#000"/>
<rect x="1007" y="84" width="2" height="1" fill="#000"/>
<rect x="18" y="92" width="2" height="1" fill="#000"/>
<rect x="1007" y="92" width="2" height="1" fill="#000"/>
<rect x="18" y="100" width="2" height="1" fill="#000"/>
<rect x="1007" y="100" width="2" height="1" fill="#000"/>
<rect x="18" y="107" width="2" height="1" fill="#000"/>
<rect x="1007" y="107" width="2" height="1" fill="#000"/>
<rect x="18" y="115" width="2" height="1" fill="#000"/>
<rect x="1007" y="115" width="2" height="1" fill="#000"/>
<rect x="18" y="124" width="2" height="1" fill="#000"/>
<rect x="1007" y="124" width="2" height="1" fill="#000"/>
<rect x="18" y="131" width="2" height="1" fill="#000"/>
<rect x="1007" y="131" width="2" height="1" fill="#000"/>
<rect x="18" y="139" width="2" height="1" fill="#000"/>
<rect x="1007" y="139" width="2" height="1" fill="#000"/>
<rect x="18" y="146" width="2" height="1" fill="#000"/>
<rect x="1007" y="146" width="2" height="1" fill="#000"/>
<rect x="18" y="154" width="2" height="1" fill="#000"/>
<rect x="1007" y="154" width="2" height="1" fill="#000"/>
<rect x="18" y="161" width="2" height="1" fill="#000"/>
<rect x="1007" y="161" width="2" height="1" fill="#000"/>
<rect x="18" y="169" width="2" height="1" fill="#000"/>
<rect x="1007" y="169" width="2" height="1" fill="#000"/>
<rect x="18" y="177" width="2" height="1" fill="#000"/>
<rect x="1007" y="177" width="2" height="1" fill="#000"/>
<rect x="18" y="184" width="2" height="1" fill="#000"/>
<rect x="1007" y="184" width="2" height="1" fill="#000"/>
<rect x="18" y="192" width="2" height="1" fill="#000"/>
<rect x="1007" y="192" width="2" height="1" fill="#000"/>
<rect x="18" y="202" width="2" height="1" fill="#000"/>
<rect x="1007" y="202" width="2" height="1" fill="#000"/>
<rect x="18" y="209" width="2" height="1" fill="#000"/>
<rect x="1007" y="209" width="2" height="1" fill="#000"/>
<rect x="18" y="217" width="2" height="1" fill="#000"/>
<rect x="1007" y="217" width="2" height="1" fill="#000"/>
<rect x="18" y="224" width="2" height="1" fill="#000"/>
<rect x="1007" y="224" width="2" height="1" fill="#000"/>
<rect x="18" y="232" width="2" height="1" fill="#000"/>
<rect x="1007" y="232" width="2" height="1" fill="#000"/>
<rect x="18" y="239" width="2" height="1" fill="#000"/>
<rect x="1007" y="239" width="2" height="1" fill="#000"/>
<rect x="18" y="247" width="2" height="1" fill="#000"/>
<rect x="1007" y="247" width="2" height="1" fill="#000"/>
<rect x="18" y="255" width="2" height="1" fill="#000"/>
<rect x="1007" y="255" width="2" height="1" fill="#000"/>
<rect x="18" y="262" width="2" height="1" fill="#000"/>
<rect x="1007" y="262" width="2" height="1" fill="#000"/>
<rect x="18" y="270" width="2" height="1" fill="#000"/>
<rect x="1007" y="270" width="2" height="1" fill="#000"/>
<rect x="18" y="279" width="2" height="1" fill="#000"/>
<rect x="1007" y="279" width="2" height="1" fill="#000"/>
<rect x="18" y="286" width="2" height="1" fill="#000"/>
<rect x="1007" y="286" width="2" height="1" fill="#000"/>
<rect x="18" y="294" width="2" height="1" fill="#000"/>
<rect x="1007" y="294" width="2" height="1" fill="#000"/>
<rect x="18" y="301" width="2" height="1" fill="#000"/>
<rect x="1007" y="301" width="2" height="1" fill="#000"/>
<rect x="18" y="309" width="2" height="1" fill="#000"/>
<rect x="1007" y="309" width="2" height="1" fill="#000"/>
<rect x="18" y="316" width="2" height="1" fill="#000"/>
<rect x="1007" y="316" width="2" height="1" fill="#000"/>
<rect x="18" y="324" width="2" height="1" fill="#000"/>
<rect x="1007" y="324" width="2" height="1" fill="#000"/>
<rect x="18" y="332" width="2" height="1" fill="#000"/>
<rect x="1007" y="332" width="2" height="1" fill="#000"/>
<rect x="18" y="339" width="2" height="1" fill="#000"/>
<rect x="1007" y="339" width="2" height="1" fill="#000"/>
<rect x="18" y="347" width="2" height="1" fill="#000"/>
<rect x="1007" y="347" width="2" height="1" fill="#000"/>
<rect x="18" y="357" width="2" height="1" fill="#000"/>
<rect x="1007" y="357" width="2" height="1" fill="#000"/>
<rect x="18" y="364" width="2" height="1" fill="#000"/>
<rect x="1007" y="364" width="2" height="1" fill="#000"/>
<rect x="18" y="372" width="2" height="1" fill="#000"/>
<rect x="1007" y="372" width="2" height="1" fill="#000"/>
<rect x="18" y="379" width="2" height="1" fill="#000"/>
<rect x="1007" y="379" width="2" height="1" fill="#000"/>
<rect x="18" y="387" width="2" height="1" fill="#000"/>
<rect x="1007" y="387" width="2" height="1" fill="#000"/>
<rect x="18" y="394" width="2" height="1" fill="#000"/>
<rect x="1007" y="394" width="2" height="1" fill="#000"/>
<rect x="18" y="402" width="2" height="1" fill="#000"/>
<rect x="1007" y="402" width="2" height="1" fill="#000"/>
<rect x="18" y="410" width="2" height="1" fill="#000"/>
<rect x="1007" y="410" width="2" height="1" fill="#000"/>
<rect x="18" y="417" width="2" height="1" fill="#000"/>
<rect x="1007" y="417" width="2" height="1" fill="#000"/>
<rect x="18" y="425" width="2" height="1" fill="#000"/>
<rect x="1007" y="425" width="2" height="1" fill="#000"/>
<rect x="18" y="434" width="2" height="1" fill="#000"/>
<rect x="1007" y="434" width="2" height="1" fill="#000"/>
<rect x="18" y="441" width="2" height="1" fill="#000"/>
<rect x="1007" y="441" width="2" height="1" fill="#000"/>
<rect x="18" y="449" width="2" height="1" fill="#000"/>
<rect x="1007" y="449" width="2" height="1" fill="#000"/>
<rect x="18" y="456" width="2" height="1" fill="#000"/>
<rect x="1007" y="456" width="2" height="1" fill="#000"/>
<rect x="18" y="464" width="2" height="1" fill="#000"/>
<rect x="1007" y="464" width="2" height="1" fill="#000"/>
<rect x="18" y="471" width="2" height="1" fill="#000"/>
<rect x="1007" y="471" width="2" height="1" fill="#000"/>
<rect x="18" y="479" width="2" height="1" fill="#000"/>
<rect x="1007" y="479" width="2" height="1" fill="#000"/>
<rect x="18" y="487" width="2" height="1" fill="#000"/>
<rect x="1007" y="487" width="2" height="1" fill="#000"/>
<rect x="18" y="494" width="2" height="1" fill="#000"/>
<rect x="1007" y="494" width="2" height="1" fill="#000"/>
<rect x="18" y="502" width="2" height="1" fill="#000"/>
<rect x="1007" y="502" width="2" height="1" fill="#000"/>
<rect x="18" y="512" width="2" height="1" fill="#000"/>
<rect x="1007" y="512" width="2" height="1" fill="#000"/>
<rect x="18" y="519" width="2" height="1" fill="#000"/>
<rect x="1007" y="519" width="2" height="1" fill="#000"/>
<rect x="18" y="527" width="2" height="1" fill="#000"/>
<rect x="1007" y="527" width="2" height="1" fill="#000"/>
<rect x="18" y="534" width="2" height="1" fill="#000"/>
<rect x="1007" y="534" width="2" height="1" fill="#000"/>
<rect x="18" y="542" width="2" height="1" fill="#000"/>
<rect x="1007" y="542" width="2" height="1" fill="#000"/>
<rect x="18" y="549" width="2" height="1" fill="#000"/>
<rect x="1007" y="549" width="2" height="1" fill="#000"/>
<rect x="18" y="557" width="2" height="1" fill="#000"/>
<rect x="1007" y="557" width="2" height="1" fill="#000"/>
<rect x="31" y="564" width="1" height="1" fill="#000"/>
<rect x="48" y="564" width="1" height="1" fill="#000"/>
<rect x="65" y="564" width="1" height="2" fill="#000"/>
<rect x="81" y="564" width="1" height="1" fill="#000"/>
<rect x="97" y="564" width="1" height="1" fill="#000"/>
<rect x="114" y="564" width="1" height="2" fill="#000"/>
<rect x="130" y="564" width="1" height="1" fill="#000"/>
<rect x="146" y="564" width="1" height="1" fill="#000"/>
<rect x="163" y="564" width="1" height="2" fill="#000"/>
<rect x="180" y="564" width="1" height="1" fill="#000"/>
<rect x="195" y="564" width="1" height="1" fill="#000"/>
<rect x="212" y="564" width="1" height="2" fill="#000"/>
<rect x="228" y="564" width="1" height="1" fill="#000"/>
<rect x="244" y="564" width="1" height="1" fill="#000"/>
<rect x="261" y="564" width="1" height="2" fill="#000"/>
<rect x="277" y="564" width="1" height="1" fill="#000"/>
<rect x="294" y="564" width="1" height="1" fill="#000"/>
<rect x="309" y="564" width="1" height="2" fill="#000"/>
<rect x="327" y="564" width="1" height="1" fill="#000"/>
<rect x="343" y="564" width="1" height="1" fill="#000"/>
<rect x="359" y="564" width="1" height="2" fill="#000"/>
<rect x="376" y="564" width="1" height="1" fill="#000"/>
<rect x="392" y="564" width="1" height="1" fill="#000"/>
<rect x="408" y="564" width="1" height="2" fill="#000"/>
<rect x="425" y="564" width="1" height="1" fill="#000"/>
<rect x="441" y="564" width="1" height="1" fill="#000"/>
<rect x="457" y="564" width="1" height="2" fill="#000"/>
<rect x="474" y="564" width="1" height="1" fill="#000"/>
<rect x="491" y="564" width="1" height="1" fill="#000"/>
<rect x="507" y="564" width="1" height="2" fill="#000"/>
<rect x="523" y="564" width="1" height="1" fill="#000"/>
<rect x="540" y="564" width="1" height="1" fill="#000"/>
<rect x="556" y="564" width="1" height="2" fill="#000"/>
<rect x="573" y="564" width="1" height="1" fill="#000"/>
<rect x="588" y="564" width="1" height="1" fill="#000"/>
<rect x="604" y="564" width="1" height="2" fill="#000"/>
<rect x="621" y="564" width="1" height="1" fill="#000"/>
<rect x="638" y="564" width="1" height="1" fill="#000"/>
<rect x="653" y="564" width="1" height="2" fill="#000"/>
<rect x="670" y="564" width="1" height="1" fill="#000"/>
<rect x="687" y="564" width="1" height="1" fill="#000"/>
<rect x="703" y="564" width="1" height="2" fill="#000"/>
<rect x="720" y="564" width="1" height="1" fill="#000"/>
<rect x="736" y="564" width="1" height="1" fill="#000"/>
<rect x="753" y="564" width="1" height="2" fill="#000"/>
<rect x="769" y="564" width="1" height="1" fill="#000"/>
<rect x="784" y="564" width="1" height="1" fill="#000"/>
<rect x="801" y="564" width="1" height="2" fill="#000"/>
<rect x="817" y="564" width="1" height="1" fill="#000"/>
<rect x="834" y="564" width="1" height="1" fill="#000"/>
<rect x="850" y="564" width="1" height="2" fill="#000"/>
<rect x="867" y="564" width="1" height="1" fill="#000"/>
<rect x="883" y="564" width="1" height="1" fill="#000"/>
<rect x="900" y="564" width="1" height="2" fill="#000"/>
<rect x="916" y="564" width="1" height="1" fill="#000"/>
<rect x="932" y="564" width="1" height="1" fill="#000"/>
<rect x="949" y="564" width="1" height="2" fill="#000"/>
<rect x="966" y="564" width="1" height="1" fill="#000"/>
<rect x="981" y="564" width="1" height="1" fill="#000"/>
<rect x="998" y="564" width="1" height="2" fill="#000"/>
<g filter="url(#al)">
<text x="64.8" y="578" font-size="14.2" text-anchor="middle" fill="#000">Jul</text>
<text x="114.7" y="578" font-size="14.2" text-anchor="middle" fill="#000">Oct</text>
<text x="165.1" y="578" font-size="14.2" text-anchor="middle" fill="#000" textLength="31.5" lengthAdjust="spacingAndGlyphs">2007</text>
<text x="212.2" y="578" font-size="14.2" text-anchor="middle" fill="#000">Apr</text>
<text x="260.8" y="578" font-size="14.2" text-anchor="middle" fill="#000">Jul</text>
<text x="309.7" y="578" font-size="14.2" text-anchor="middle" fill="#000">Oct</text>
<text x="361.1" y="578" font-size="14.2" text-anchor="middle" fill="#000" textLength="31.5" lengthAdjust="spacingAndGlyphs">2008</text>
<text x="408.2" y="578" font-size="14.2" text-anchor="middle" fill="#000">Apr</text>
<text x="456.8" y="578" font-size="14.2" text-anchor="middle" fill="#000">Jul</text>
<text x="507.7" y="578" font-size="14.2" text-anchor="middle" fill="#000">Oct</text>
<text x="558.1" y="578" font-size="14.2" text-anchor="middle" fill="#000" textLength="31.5" lengthAdjust="spacingAndGlyphs">2009</text>
<text x="604.2" y="578" font-size="14.2" text-anchor="middle" fill="#000">Apr</text>
<text x="652.8" y="578" font-size="14.2" text-anchor="middle" fill="#000">Jul</text>
<text x="703.7" y="578" font-size="14.2" text-anchor="middle" fill="#000">Oct</text>
<text x="755.1" y="578" font-size="14.2" text-anchor="middle" fill="#000" textLength="31.5" lengthAdjust="spacingAndGlyphs">2010</text>
<text x="801.2" y="578" font-size="14.2" text-anchor="middle" fill="#000">Apr</text>
<text x="849.8" y="578" font-size="14.2" text-anchor="middle" fill="#000">Jul</text>
<text x="900.7" y="578" font-size="14.2" text-anchor="middle" fill="#000">Oct</text>
<text x="951.1" y="578" font-size="14.2" text-anchor="middle" fill="#000" textLength="31.5" lengthAdjust="spacingAndGlyphs">2011</text>
<text x="998.2" y="578" font-size="14.2" text-anchor="middle" fill="#000">Apr</text>
<text x="1009.3" y="53" font-size="14" fill="#000" textLength="32" lengthAdjust="spacingAndGlyphs">4500</text>
<text x="1009.3" y="130" font-size="14" fill="#000" textLength="32" lengthAdjust="spacingAndGlyphs">4000</text>
<text x="1009.3" y="208" font-size="14" fill="#000" textLength="32" lengthAdjust="spacingAndGlyphs">3500</text>
<text x="1009.3" y="285" font-size="14" fill="#000" textLength="32" lengthAdjust="spacingAndGlyphs">3000</text>
<text x="1009.3" y="363" font-size="14" fill="#000" textLength="32" lengthAdjust="spacingAndGlyphs">2500</text>
<text x="1009.3" y="440" font-size="14" fill="#000" textLength="32" lengthAdjust="spacingAndGlyphs">2000</text>
<text x="1009.3" y="518" font-size="14" fill="#000" textLength="32" lengthAdjust="spacingAndGlyphs">1500</text>
<text x="23.2" y="42" font-size="13.8" fill="#0000e0" textLength="47.5" lengthAdjust="spacingAndGlyphs">Weekly</text>
<text x="23.5" y="59" font-size="13.8" fill="#a5181c" textLength="57" lengthAdjust="spacingAndGlyphs">EMA 200</text>
<text x="19.3" y="15" font-size="16" fill="#000" textLength="340.5" lengthAdjust="spacingAndGlyphs">Palm Oil 1st Mth Continuation (KO1) 3252 <tspan fill="#cc0000">-30.00</tspan></text>
<text x="748" y="15" font-size="15.4" fill="#000" textLength="149" lengthAdjust="spacingAndGlyphs">www.fullermoney.com</text>
<text x="917" y="15" font-size="16" fill="#000" textLength="87.5" lengthAdjust="spacingAndGlyphs">29 Mar 2011</text>
</g>
<text x="869.5" y="595" font-size="9.4" fill="#888888" textLength="136" lengthAdjust="spacingAndGlyphs">© 2011 Stockcube Research Ltd</text>
</svg></body></html>
